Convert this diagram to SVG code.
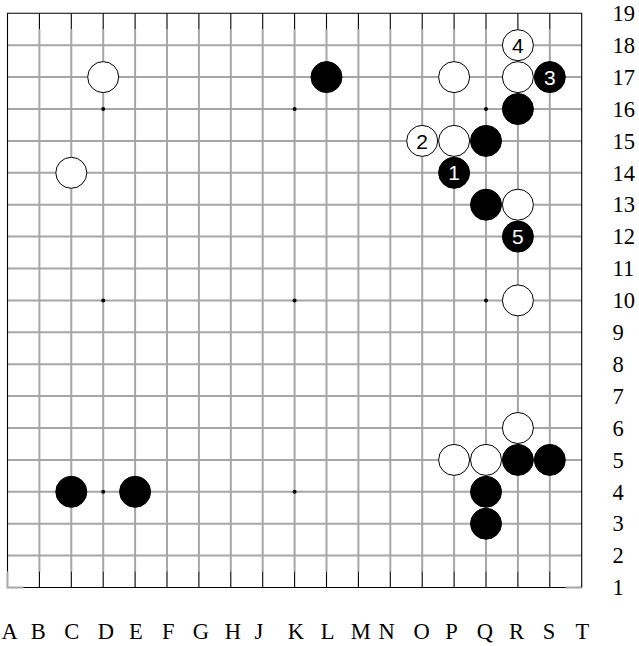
<svg xmlns="http://www.w3.org/2000/svg" width="639" height="646" viewBox="0 0 639 646">
<style>
.g{stroke:#a6a6a6;stroke-width:2;fill:none}
.k{stroke:#000;stroke-width:1.1;fill:none}
.w{fill:#fff;stroke:#000;stroke-width:1}
.b{fill:#000;stroke:#000;stroke-width:1}
.h{fill:#000}
.n{font-family:"Liberation Sans",Arial,sans-serif;font-size:21px;text-anchor:middle}
.nw{fill:#fff}
.nb{fill:#000}
.lab{font-family:"Liberation Serif","Times New Roman",serif;font-size:22.5px;fill:#000}
.col{text-anchor:middle}
</style>
<rect width="639" height="646" fill="#fff"/>
<g id="board">
<g id="grid-gray" class="g">
<path d="M7.5 45.2H581.7M7.5 77.1H581.7M7.5 109H581.7M7.5 140.9H581.7M7.5 172.8H581.7M7.5 204.7H581.7M7.5 236.6H581.7M7.5 268.5H581.7M7.5 300.4H581.7M7.5 332.3H581.7M7.5 364.2H581.7M7.5 396.1H581.7M7.5 428H581.7M7.5 459.9H581.7M7.5 491.8H581.7M7.5 523.7H581.7M7.5 555.6H581.7"/>
<path d="M39.4 29.3V571.6M71.3 29.3V571.6M103.2 29.3V571.6M135.1 29.3V571.6M167 29.3V571.6M198.9 29.3V571.6M230.8 29.3V571.6M262.7 29.3V571.6M294.6 29.3V571.6M326.5 29.3V571.6M358.4 29.3V571.6M390.3 29.3V571.6M422.2 29.3V571.6M454.1 29.3V571.6M486 29.3V571.6M517.9 29.3V571.6M549.8 29.3V571.6"/>
<path d="M7.5 571.6V587.5H23.4M565.8 587.5H581.7"/>
</g>
<g id="grid-edge" class="k">
<path d="M7.5 571.6V13.3H581.7V587.5M23.4 587.5H565.8"/>
<path d="M39.4 13.3V29.3M71.3 13.3V29.3M103.2 13.3V29.3M135.1 13.3V29.3M167 13.3V29.3M198.9 13.3V29.3M230.8 13.3V29.3M262.7 13.3V29.3M294.6 13.3V29.3M326.5 13.3V29.3M358.4 13.3V29.3M390.3 13.3V29.3M422.2 13.3V29.3M454.1 13.3V29.3M486 13.3V29.3M517.9 13.3V29.3M549.8 13.3V29.3"/>
<path d="M39.4 571.6V587.5M71.3 571.6V587.5M103.2 571.6V587.5M135.1 571.6V587.5M167 571.6V587.5M198.9 571.6V587.5M230.8 571.6V587.5M262.7 571.6V587.5M294.6 571.6V587.5M326.5 571.6V587.5M358.4 571.6V587.5M390.3 571.6V587.5M422.2 571.6V587.5M454.1 571.6V587.5M486 571.6V587.5M517.9 571.6V587.5M549.8 571.6V587.5"/>
</g>
<g id="hoshi" class="h">
<circle cx="103.2" cy="109" r="2"/><circle cx="294.6" cy="109" r="2"/><circle cx="486" cy="109" r="2"/>
<circle cx="103.2" cy="300.4" r="2"/><circle cx="294.6" cy="300.4" r="2"/><circle cx="486" cy="300.4" r="2"/>
<circle cx="103.2" cy="491.8" r="2"/><circle cx="294.6" cy="491.8" r="2"/><circle cx="486" cy="491.8" r="2"/>
</g>
</g>
<g id="stones">
<g id="D17"><circle class="w" cx="103.2" cy="77.1" r="15.5"/></g>
<g id="L17"><circle class="b" cx="326.5" cy="77.1" r="15.5"/></g>
<g id="P17"><circle class="w" cx="454.1" cy="77.1" r="15.5"/></g>
<g id="R18"><circle class="w" cx="517.9" cy="45.2" r="15.5"/><text class="n nb" x="517.9" y="52.8">4</text></g>
<g id="R17"><circle class="w" cx="517.9" cy="77.1" r="15.5"/></g>
<g id="S17"><circle class="b" cx="549.8" cy="77.1" r="15.5"/><text class="n nw" x="549.8" y="84.7">3</text></g>
<g id="R16"><circle class="b" cx="517.9" cy="109" r="15.5"/></g>
<g id="O15"><circle class="w" cx="422.2" cy="140.9" r="15.5"/><text class="n nb" x="422.2" y="148.5">2</text></g>
<g id="P15"><circle class="w" cx="454.1" cy="140.9" r="15.5"/></g>
<g id="Q15"><circle class="b" cx="486" cy="140.9" r="15.5"/></g>
<g id="P14"><circle class="b" cx="454.1" cy="172.8" r="15.5"/><text class="n nw" x="454.1" y="180.4">1</text></g>
<g id="C14"><circle class="w" cx="71.3" cy="172.8" r="15.5"/></g>
<g id="Q13"><circle class="b" cx="486" cy="204.7" r="15.5"/></g>
<g id="R13"><circle class="w" cx="517.9" cy="204.7" r="15.5"/></g>
<g id="R12"><circle class="b" cx="517.9" cy="236.6" r="15.5"/><text class="n nw" x="517.9" y="244.2">5</text></g>
<g id="R10"><circle class="w" cx="517.9" cy="300.4" r="15.5"/></g>
<g id="R6"><circle class="w" cx="517.9" cy="428" r="15.5"/></g>
<g id="P5"><circle class="w" cx="454.1" cy="459.9" r="15.5"/></g>
<g id="Q5"><circle class="w" cx="486" cy="459.9" r="15.5"/></g>
<g id="R5"><circle class="b" cx="517.9" cy="459.9" r="15.5"/></g>
<g id="S5"><circle class="b" cx="549.8" cy="459.9" r="15.5"/></g>
<g id="Q4"><circle class="b" cx="486" cy="491.8" r="15.5"/></g>
<g id="Q3"><circle class="b" cx="486" cy="523.7" r="15.5"/></g>
<g id="C4"><circle class="b" cx="71.3" cy="491.8" r="15.5"/></g>
<g id="E4"><circle class="b" cx="135.1" cy="491.8" r="15.5"/></g>
</g>
<g id="row-labels" class="lab">
<text x="612.5" y="21">19</text><text x="612.5" y="52.9">18</text><text x="612.5" y="84.8">17</text><text x="612.5" y="116.7">16</text><text x="612.5" y="148.6">15</text><text x="612.5" y="180.5">14</text><text x="612.5" y="212.4">13</text><text x="612.5" y="244.3">12</text><text x="612.5" y="276.2">11</text><text x="612.5" y="308.1">10</text>
<text x="612.5" y="340">9</text><text x="612.5" y="371.9">8</text><text x="612.5" y="403.8">7</text><text x="612.5" y="435.7">6</text><text x="612.5" y="467.6">5</text><text x="612.5" y="499.5">4</text><text x="612.5" y="531.4">3</text><text x="612.5" y="563.3">2</text><text x="612.5" y="595.2">1</text>
</g>
<g id="col-labels" class="lab col">
<text x="9.7" y="639">A</text><text x="38.3" y="639">B</text><text x="71.7" y="639">C</text><text x="105.8" y="639">D</text><text x="135.8" y="639">E</text><text x="168.3" y="639">F</text><text x="200.8" y="639">G</text><text x="232.8" y="639">H</text><text x="259" y="639">J</text><text x="295.8" y="639">K</text><text x="327.5" y="639">L</text><text x="360.8" y="639">M</text><text x="386.7" y="639">N</text><text x="421.5" y="639">O</text><text x="451.5" y="639">P</text><text x="484.8" y="639">Q</text><text x="516.5" y="639">R</text><text x="549" y="639">S</text><text x="582.3" y="639">T</text>
</g>
</svg>
